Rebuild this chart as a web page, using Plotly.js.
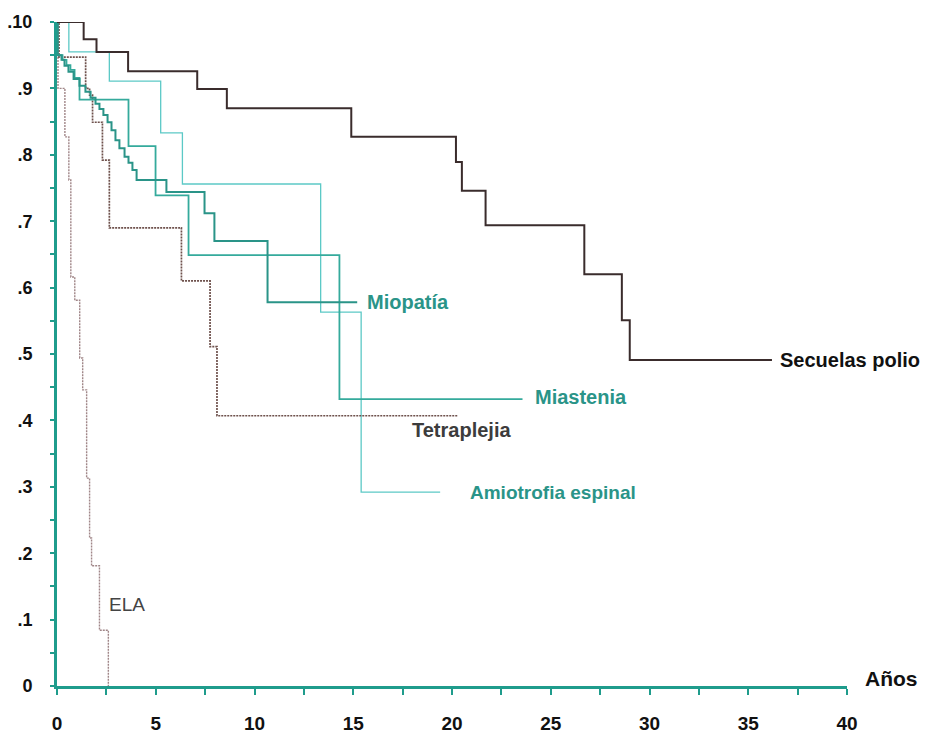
<!DOCTYPE html>
<html>
<head>
<meta charset="utf-8">
<script src="https://cdn.plot.ly/plotly-3.0.1.min.js"></script>
<style>
html,body{margin:0;padding:0;background:#fff;}
#chart{width:926px;height:735px;}
</style>
</head>
<body>
<div id="chart"></div>
<script>
// Survival data (years, cumulative survival)
var polio_t = [0, 1.35, 2.0, 3.6, 7.1, 8.6, 14.9, 20.2, 20.5, 21.7, 26.7, 28.6, 29.0, 36.2];
var polio_s = [1.0, 0.974, 0.955, 0.926, 0.899, 0.870, 0.827, 0.789, 0.746, 0.694, 0.620, 0.551, 0.491, 0.491];

var tetra_t = [0, 0.1, 1.45, 1.65, 1.8, 2.3, 2.65, 6.3, 7.75, 8.1, 20.3];
var tetra_s = [1.0, 0.947, 0.90, 0.89, 0.849, 0.792, 0.690, 0.610, 0.511, 0.407, 0.407];

var ela_t = [0, 0.05, 0.4, 0.6, 0.7, 0.9, 1.15, 1.3, 1.5, 1.65, 1.75, 2.15, 2.6];
var ela_s = [1.0, 0.90, 0.827, 0.762, 0.616, 0.581, 0.494, 0.446, 0.313, 0.223, 0.181, 0.084, 0];

var amio_t = [0, 0.6, 2.65, 5.25, 6.35, 13.35, 15.4, 19.4];
var amio_s = [1.0, 0.955, 0.911, 0.833, 0.756, 0.563, 0.292, 0.292];

var miop_t = [0, 0.03, 0.23, 0.38, 0.58, 0.84, 1.14, 1.44, 1.70, 1.95, 2.15, 2.35, 2.56, 2.76, 2.96, 3.16, 3.42, 3.62, 3.82, 4.03, 5.54, 7.47, 7.97, 10.66, 15.2];
var miop_s = [1.0, 0.95, 0.943, 0.934, 0.925, 0.914, 0.904, 0.895, 0.886, 0.877, 0.869, 0.860, 0.849, 0.837, 0.822, 0.810, 0.797, 0.788, 0.777, 0.762, 0.744, 0.712, 0.670, 0.578, 0.578];

var mias_t = [0, 0.03, 0.28, 0.48, 0.68, 0.89, 1.14, 3.62, 4.99, 6.66, 14.3, 23.57];
var mias_s = [1.0, 0.95, 0.943, 0.935, 0.928, 0.916, 0.883, 0.813, 0.739, 0.649, 0.432, 0.432];

var xTickVals = [0, 2.5, 5, 7.5, 10, 12.5, 15, 17.5, 20, 22.5, 25, 27.5, 30, 32.5, 35, 37.5, 40];
var xTickText = ['0', '', '5', '', '10', '', '15', '', '20', '', '25', '', '30', '', '35', '', '40'];
var yTickVals = [0, 0.05, 0.1, 0.15, 0.2, 0.25, 0.3, 0.35, 0.4, 0.45, 0.5, 0.55, 0.6, 0.65, 0.7, 0.75, 0.8, 0.85, 0.9, 0.95, 1.0];
var yTickText = ['0', '', '.1', '', '.2', '', '.3', '', '.4', '', '.5', '', '.6', '', '.7', '', '.8', '', '.9', '', '.10'];

var seriesLabels = ['Secuelas polio', 'Miopatía', 'Miastenia', 'Tetraplejia', 'Amiotrofia espinal', 'ELA'];
var xAxisLabel = 'Años';

var teal = '#1f9c8c';

function stepTrace(x, y, color, width, dash) {
  return {x: x, y: y, type: 'scatter', mode: 'lines',
          line: {shape: 'hv', color: color, width: width, dash: dash || 'solid'},
          hoverinfo: 'skip', showlegend: false};
}

var data = [
  stepTrace(amio_t, amio_s, '#5cc9c6', 1.3),
  stepTrace(ela_t, ela_s, '#a08688', 1.4, '2px,1px'),
  stepTrace(tetra_t, tetra_s, '#6e514c', 1.7, '2px,1px'),
  stepTrace(mias_t, mias_s, '#35aa9c', 1.8),
  stepTrace(miop_t, miop_s, '#2a9488', 2),
  stepTrace(polio_t, polio_s, '#3a2c2c', 2)
];

var annFont = 'Liberation Sans, Arial, sans-serif';
var narrow = 'Liberation Sans Narrow, Liberation Sans, Arial, sans-serif';
var labelTeal = '#2a9488';
layout = {
  width: 926, height: 735,
  margin: {l: 57, r: 79, t: 22, b: 49},
  paper_bgcolor: '#ffffff', plot_bgcolor: '#ffffff',
  xaxis: {
    range: [0, 40], showgrid: false, zeroline: false,
    showline: true, linecolor: teal, linewidth: 3,
    tickmode: 'array', tickvals: xTickVals, ticktext: xTickText,
    ticks: 'outside', ticklen: 6, tickwidth: 2, tickcolor: teal,
    ticklabelstandoff: 12,
    tickfont: {family: narrow, size: 19, color: '#111', weight: 'bold'}
  },
  yaxis: {
    range: [0, 1], showgrid: false, zeroline: false,
    showline: true, linecolor: teal, linewidth: 3,
    tickmode: 'array', tickvals: yTickVals, ticktext: yTickText,
    ticks: 'outside', ticklen: 4, tickwidth: 2, tickcolor: teal,
    ticklabelstandoff: 14,
    tickfont: {family: narrow, size: 18, color: '#111', weight: 'bold'}
  },
  annotations: [
    {x: 36.5, y: 0.491, text: seriesLabels[0], xanchor: 'left', yanchor: 'middle', showarrow: false,
     font: {family: annFont, size: 20, color: '#111', weight: 'bold'}},
    {x: 15.6, y: 0.578, text: seriesLabels[1], xanchor: 'left', yanchor: 'middle', showarrow: false,
     font: {family: annFont, size: 20, color: labelTeal, weight: 'bold'}},
    {x: 24.1, y: 0.435, text: seriesLabels[2], xanchor: 'left', yanchor: 'middle', showarrow: false,
     font: {family: annFont, size: 20, color: labelTeal, weight: 'bold'}},
    {x: 17.85, y: 0.385, text: seriesLabels[3], xanchor: 'left', yanchor: 'middle', showarrow: false,
     font: {family: annFont, size: 20, color: '#3c3c3c', weight: 'bold'}},
    {x: 20.8, y: 0.292, text: seriesLabels[4], xanchor: 'left', yanchor: 'middle', showarrow: false,
     font: {family: annFont, size: 19, color: labelTeal, weight: 'bold'}},
    {x: 2.55, y: 0.122, text: seriesLabels[5], xanchor: 'left', yanchor: 'middle', showarrow: false,
     font: {family: annFont, size: 19, color: '#444'}},
    {xref: 'paper', x: 1.02, y: 0.012, text: xAxisLabel, xanchor: 'left', yanchor: 'middle', showarrow: false,
     font: {family: narrow, size: 21, color: '#111', weight: 'bold'}}
  ]
};

Plotly.newPlot('chart', data, layout, {displayModeBar: false, staticPlot: true});
</script>
</body>
</html>
